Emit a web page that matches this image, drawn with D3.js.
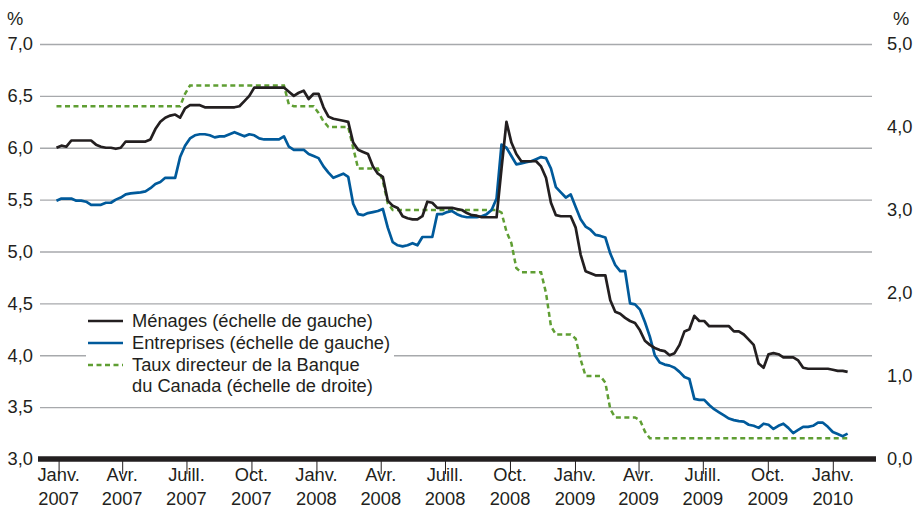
<!DOCTYPE html>
<html>
<head>
<meta charset="utf-8">
<script src="https://cdn.jsdelivr.net/npm/d3@7"></script>
<style>
  body { margin: 0; background: #fff; }
  svg { display: block; font-family: "Liberation Sans", Arial, sans-serif; }
</style>
</head>
<body>
<svg width="915" height="524"></svg>
<script>
// weekly series, first week ending 2006-12-29
const firstWeek = new Date(2006, 11, 29);

// Ménages (left scale, %)
const menages = [
  6.00, 6.02, 6.01, 6.07, 6.07, 6.07, 6.07, 6.07, 6.03, 6.01,
  6.00, 6.00, 5.99, 6.00, 6.06, 6.06, 6.06, 6.06, 6.06, 6.08,
  6.18, 6.25, 6.29, 6.31, 6.32, 6.29, 6.38, 6.41, 6.41, 6.41,
  6.39, 6.39, 6.39, 6.39, 6.39, 6.39, 6.39, 6.40, 6.45, 6.50,
  6.58, 6.58, 6.58, 6.58, 6.58, 6.58, 6.58, 6.54, 6.50, 6.53,
  6.55, 6.47, 6.52, 6.52, 6.39, 6.30, 6.28, 6.27, 6.26, 6.25,
  6.05, 5.98, 5.96, 5.94, 5.82, 5.75, 5.72, 5.49, 5.44, 5.42,
  5.34, 5.32, 5.31, 5.31, 5.34, 5.48, 5.47, 5.42, 5.42, 5.42,
  5.42, 5.41, 5.40, 5.37, 5.35, 5.345, 5.33, 5.33, 5.33, 5.33,
  5.80, 6.25, 6.05, 5.94, 5.87, 5.87, 5.87, 5.87, 5.82, 5.71,
  5.47, 5.35, 5.34, 5.34, 5.34, 5.23, 4.97, 4.81, 4.79, 4.77,
  4.77, 4.77, 4.53, 4.42, 4.40, 4.36, 4.33, 4.31, 4.24, 4.14,
  4.10, 4.07, 4.05, 4.04, 4.00, 4.02, 4.10, 4.23, 4.25, 4.38,
  4.33, 4.33, 4.28, 4.28, 4.28, 4.28, 4.28, 4.23, 4.23, 4.20,
  4.15, 4.10, 3.92, 3.88, 4.01, 4.02, 4.01, 3.98, 3.98, 3.98,
  3.95, 3.88, 3.87, 3.87, 3.87, 3.87, 3.87, 3.86, 3.85, 3.85,
  3.84
];

// Entreprises (left scale, %)
const entreprises = [
  5.49, 5.51, 5.51, 5.51, 5.49, 5.49, 5.48, 5.45, 5.45, 5.45,
  5.47, 5.47, 5.50, 5.52, 5.55, 5.56, 5.565, 5.57, 5.58, 5.61,
  5.65, 5.67, 5.71, 5.71, 5.71, 5.91, 6.02, 6.09, 6.12, 6.13,
  6.13, 6.12, 6.10, 6.11, 6.11, 6.13, 6.15, 6.13, 6.11, 6.13,
  6.12, 6.09, 6.08, 6.08, 6.08, 6.08, 6.11, 6.01, 5.98, 5.98,
  5.98, 5.94, 5.92, 5.90, 5.82, 5.76, 5.71, 5.73, 5.75, 5.72,
  5.46, 5.36, 5.35, 5.37, 5.38, 5.39, 5.41, 5.23, 5.09, 5.06,
  5.05, 5.06, 5.08, 5.06, 5.14, 5.14, 5.14, 5.36, 5.36, 5.38,
  5.39, 5.36, 5.34, 5.33, 5.33, 5.33, 5.34, 5.36, 5.40, 5.51,
  6.03, 6.00, 5.92, 5.84, 5.85, 5.86, 5.87, 5.89, 5.91, 5.90,
  5.80, 5.62, 5.57, 5.52, 5.55, 5.43, 5.31, 5.24, 5.21, 5.16,
  5.15, 5.135, 4.98, 4.87, 4.81, 4.81, 4.50, 4.49, 4.44, 4.32,
  4.18, 4.00, 3.93, 3.91, 3.90, 3.88, 3.84, 3.79, 3.77, 3.58,
  3.57, 3.57, 3.52, 3.48, 3.45, 3.42, 3.39, 3.375, 3.365, 3.36,
  3.33, 3.32, 3.30, 3.34, 3.33, 3.29, 3.32, 3.34, 3.30, 3.25,
  3.28, 3.31, 3.31, 3.32, 3.35, 3.35, 3.31, 3.26, 3.24, 3.22,
  3.245
];

// Taux directeur (right scale, %)
const tauxDirecteur = [
  4.25, 4.25, 4.25, 4.25, 4.25, 4.25, 4.25, 4.25, 4.25, 4.25,
  4.25, 4.25, 4.25, 4.25, 4.25, 4.25, 4.25, 4.25, 4.25, 4.25,
  4.25, 4.25, 4.25, 4.25, 4.25, 4.25, 4.40, 4.50, 4.50, 4.50,
  4.50, 4.50, 4.50, 4.50, 4.50, 4.50, 4.50, 4.50, 4.50, 4.50,
  4.50, 4.50, 4.50, 4.50, 4.50, 4.50, 4.50, 4.27, 4.25, 4.25,
  4.25, 4.25, 4.25, 4.17, 4.07, 4.00, 4.00, 4.00, 4.00, 4.00,
  3.75, 3.50, 3.50, 3.50, 3.50, 3.50, 3.35, 3.08, 3.00, 3.00,
  3.00, 3.00, 3.00, 3.00, 3.00, 3.00, 3.00, 3.00, 3.00, 3.00,
  3.00, 3.00, 3.00, 3.00, 3.00, 3.00, 3.00, 3.00, 3.00, 3.00,
  2.97, 2.74, 2.60, 2.30, 2.25, 2.25, 2.25, 2.25, 2.25, 2.00,
  1.60, 1.50, 1.50, 1.50, 1.50, 1.45, 1.20, 1.00, 1.00, 1.00,
  1.00, 0.92, 0.60, 0.50, 0.50, 0.50, 0.50, 0.50, 0.47, 0.33,
  0.25, 0.25, 0.25, 0.25, 0.25, 0.25, 0.25, 0.25, 0.25, 0.25,
  0.25, 0.25, 0.25, 0.25, 0.25, 0.25, 0.25, 0.25, 0.25, 0.25,
  0.25, 0.25, 0.25, 0.25, 0.25, 0.25, 0.25, 0.25, 0.25, 0.25,
  0.25, 0.25, 0.25, 0.25, 0.25, 0.25, 0.25, 0.25, 0.25, 0.25,
  0.25
];

const tickMonths = ["Janv.", "Avr.", "Juill.", "Oct.", "Janv.", "Avr.", "Juill.", "Oct.",
                    "Janv.", "Avr.", "Juill.", "Oct.", "Janv."];
const tickYears = ["2007", "2007", "2007", "2007", "2008", "2008", "2008", "2008",
                   "2009", "2009", "2009", "2009", "2010"];
const leftTicks = [3.0, 3.5, 4.0, 4.5, 5.0, 5.5, 6.0, 6.5, 7.0];
const rightTicks = [0, 1, 2, 3, 4, 5];

const legendItems = [
  { lines: ["Ménages (échelle de gauche)"], color: "#231f20", dash: null },
  { lines: ["Entreprises (échelle de gauche)"], color: "#005a9b", dash: null },
  { lines: ["Taux directeur de la Banque", "du Canada (échelle de droite)"], color: "#5f9e33", dash: "5,3.5" }
];

const dates = menages.map((d, i) => d3.timeDay.offset(firstWeek, 7 * i));

const svg = d3.select("svg");
const plotLeft = 40, plotRight = 872, plotTop = 44, plotBottom = 459;
const fs = 18.3;

const fr = d3.formatLocale({ decimal: ",", thousands: " ", grouping: [3], currency: ["", ""] });
const fmt = fr.format(".1f");

const x = d3.scaleTime()
  .domain([new Date(2007, 0, 1), new Date(2010, 0, 1)])
  .range([58.6, 832.8]);
const yL = d3.scaleLinear().domain([3, 7]).range([plotBottom, plotTop]);
const yR = d3.scaleLinear().domain([0, 5]).range([plotBottom, plotTop]);

// left axis + gridlines
const gL = svg.append("g")
  .attr("transform", `translate(${plotLeft},0)`)
  .call(d3.axisLeft(yL).tickValues(leftTicks).tickSize(-(plotRight - plotLeft)).tickPadding(7).tickFormat(fmt));
gL.select(".domain").remove();
gL.selectAll("line").attr("stroke", "#a7a9ac").attr("stroke-width", 1.3);
gL.selectAll("text").attr("font-size", fs).attr("fill", "#231f20");

// right axis
const gR = svg.append("g")
  .attr("transform", `translate(${plotRight},0)`)
  .call(d3.axisRight(yR).tickValues(rightTicks).tickSize(0).tickPadding(15).tickFormat(fmt));
gR.select(".domain").remove();
gR.selectAll("text").attr("font-size", fs).attr("fill", "#231f20");

// unit labels
svg.append("text").attr("x", 7).attr("y", 25).attr("font-size", fs).attr("fill", "#231f20").text("%");
svg.append("text").attr("x", 893).attr("y", 25).attr("font-size", fs).attr("fill", "#231f20").text("%");

// bottom axis
const quarters = d3.timeMonth.every(3).range(new Date(2007, 0, 1), new Date(2010, 0, 2));
const gB = svg.append("g")
  .attr("transform", `translate(0,${plotBottom})`)
  .call(d3.axisBottom(x).tickValues(quarters).tickSize(15).tickFormat(""));
gB.select(".domain").remove();
gB.selectAll("line").attr("stroke", "#231f20").attr("stroke-width", 1);

const lbl = svg.append("g").attr("font-size", fs).attr("fill", "#231f20").attr("text-anchor", "middle");
quarters.forEach((q, i) => {
  lbl.append("text").attr("x", x(q)).attr("y", 481).text(tickMonths[i]);
  lbl.append("text").attr("x", x(q)).attr("y", 505).text(tickYears[i]);
});

// series
const lineL = d3.line().x((d, i) => x(dates[i])).y(d => yL(d));
const lineR = d3.line().x((d, i) => x(dates[i])).y(d => yR(d));

svg.append("path").datum(tauxDirecteur).attr("d", lineR)
  .attr("fill", "none").attr("stroke", "#5f9e33").attr("stroke-width", 2.5)
  .attr("stroke-dasharray", "5,3.5");
svg.append("path").datum(entreprises).attr("d", lineL)
  .attr("fill", "none").attr("stroke", "#005a9b").attr("stroke-width", 2.7)
  .attr("stroke-linejoin", "round");
svg.append("path").datum(menages).attr("d", lineL)
  .attr("fill", "none").attr("stroke", "#231f20").attr("stroke-width", 2.7)
  .attr("stroke-linejoin", "round");

// thick baseline
svg.append("line").attr("x1", 38).attr("x2", 876).attr("y1", plotBottom).attr("y2", plotBottom)
  .attr("stroke", "#231f20").attr("stroke-width", 5.5);

// legend
const lg = svg.append("g");
lg.append("rect").attr("x", 86).attr("y", 311).attr("width", 308).attr("height", 86).attr("fill", "#fff");
let ly = 321;
legendItems.forEach(item => {
  lg.append("line").attr("x1", 88).attr("x2", 123).attr("y1", ly).attr("y2", ly)
    .attr("stroke", item.color).attr("stroke-width", 2.7)
    .attr("stroke-dasharray", item.dash);
  item.lines.forEach((t, j) => {
    lg.append("text").attr("x", 132).attr("y", ly + 6 + j * 21)
      .attr("font-size", fs).attr("fill", "#231f20").text(t);
  });
  ly += 22;
});
</script>
</body>
</html>
